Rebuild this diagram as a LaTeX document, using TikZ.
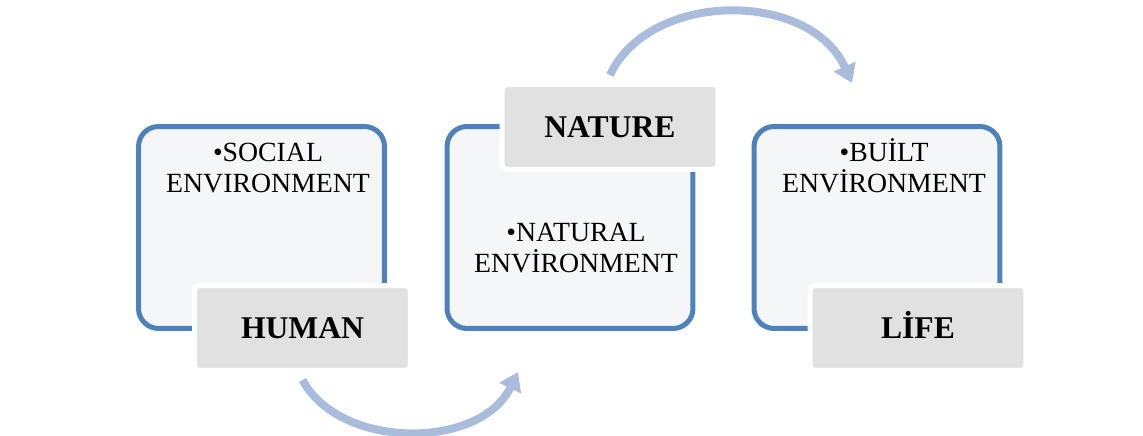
\documentclass[tikz,border=0pt]{standalone}
\usepackage{fontspec}
\setmainfont{Liberation Serif}
\usetikzlibrary{arrows.meta}
\definecolor{boxblue}{HTML}{4F81BD}
\definecolor{boxfill}{HTML}{F4F6F7}
\definecolor{tagfill}{HTML}{E1E1E1}
\definecolor{arrowblue}{HTML}{A9BCDC}
\begin{document}
\begin{tikzpicture}[x=0.02cm, y=-0.02cm,
	envbox/.style = {shape = rectangle,
	                 rounded corners = 0.4cm,
	                 draw = boxblue,
	                 line width = 0.1cm,
	                 fill = boxfill,
	                 inner sep = 0pt,
	                 minimum width = 4.92cm,
	                 minimum height = 4.04cm},
	tagbox/.style = {shape = rectangle,
	                 rounded corners = 0.1cm,
	                 draw = white,
	                 line width = 0.1cm,
	                 fill = tagfill,
	                 inner sep = 0pt,
	                 text height = 0.42cm,
	                 text depth = 0cm,
	                 minimum width = 4.32cm,
	                 minimum height = 1.7cm,
	                 font = \fontsize{18}{21}\selectfont\bfseries},
	envtext/.style = {align = center,
	                  inner sep = 0pt,
	                  font = \fontsize{15.8}{17.6}\selectfont},
	cycle/.style = {draw = arrowblue,
	                line width = 0.16cm,
	                -{Triangle[width=0.46cm, length=0.36cm]}}]
		\useasboundingbox (0,0) rectangle (1143,436);
		% boxes
		\node[envbox] (social) at (261.5,227.5) {};
		\node[envbox] (natural) at (570,227.5) {};
		\node[envbox] (built) at (877,227.5) {};
		\node[envtext] (socialtext) at (268,168) {•SOCIAL\\ENVIRONMENT};
		\node[envtext] (naturaltext) at (576,248) {•NATURAL\\ENVİRONMENT};
		\node[envtext] (builttext) at (884,166) {•BUİLT\\ENVİRONMENT};
		% tags
		\node[tagbox] (human) at (302.5,328) {HUMAN};
		\node[tagbox] (nature) at (610,127) {NATURE};
		\node[tagbox] (life) at (918,328) {LİFE};
		% arrows
		\coordinate (naturein) at (518,372);
		\coordinate (lifein) at (852,83);
		\draw[cycle] ([yshift=-0.14cm]human.south) .. controls (340,450) and (480,450) .. (naturein);
		\draw[cycle] ([yshift=0.14cm]nature.north) .. controls (650,-10) and (810,-10) .. (lifein);
	\end{tikzpicture}
\end{document}
